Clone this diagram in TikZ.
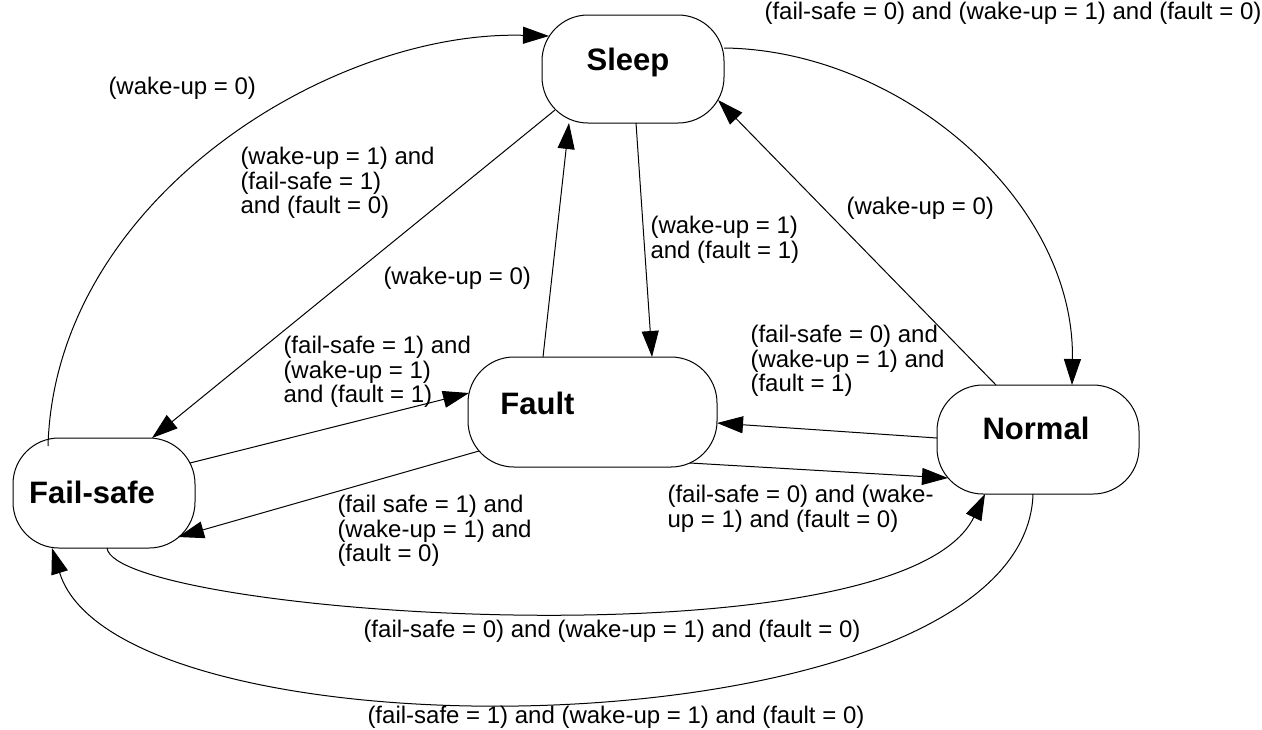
\documentclass[tikz,border=0pt]{standalone}
\usepackage{fontspec}
\setmainfont{Liberation Sans}
\usetikzlibrary{arrows.meta, calc}

\tikzset{
    mode/.style={draw, rounded corners=23pt, minimum height=55pt, inner sep=0pt, line width=0.5pt},
    modetext/.style={font=\bfseries\fontsize{15.5}{18}\selectfont},
    cond/.style={anchor=west, align=left, inner sep=0pt, font=\fontsize{12}{12.3}\selectfont}
}

\begin{document}
\begin{tikzpicture}[x=0.5pt, y=-0.5pt, line width=0.5pt, >={Triangle[length=13pt,width=8.5pt]}]
    \useasboundingbox (0,0) rectangle (1262,729);

    \node[mode, minimum width=91pt, minimum height=54pt, label={[modetext, xshift=-2.5pt, yshift=3.5pt]center:Sleep}] (s) at (633, 69) {};
    \node[mode, minimum width=124.5pt, label={[modetext, xshift=-27.5pt, yshift=4.5pt]center:Fault}] (f) at (592.5, 412) {};
    \node[mode, minimum width=101pt, minimum height=54.5pt, label={[modetext, xshift=-1pt, yshift=5.5pt]center:Normal}] (n) at (1038, 439.5) {};
    \node[mode, minimum width=91pt, label={[modetext, xshift=-6pt, yshift=0.5pt]center:Fail-safe}] (fs) at (104, 493) {};

    \node[cond] (c1) at (108, 88) {(wake-up = 0)};
    \node[cond] (c2) at (240, 183) {(wake-up = 1) and\\(fail-safe = 1)\\and (fault = 0)};
    \node[cond] (c3) at (383, 278) {(wake-up = 0)};
    \node[cond] (c4) at (650, 240) {(wake-up = 1)\\and (fault = 1)};
    \node[cond] (c5) at (846, 208) {(wake-up = 0)};
    \node[cond] (c6) at (764, 13) {(fail-safe = 0) and (wake-up = 1) and (fault = 0)};
    \node[cond] (c7) at (750, 361) {(fail-safe = 0) and\\(wake-up = 1) and\\(fault = 1)};
    \node[cond] (c8) at (283, 372) {(fail-safe = 1) and\\(wake-up = 1)\\and (fault = 1)};
    \node[cond] (c9) at (337, 531) {(fail safe = 1) and\\(wake-up = 1) and\\(fault = 0)};
    \node[cond] (c10) at (667, 508.5) {(fail-safe = 0) and (wake-\\up = 1) and (fault = 0)};
    \node[cond] (c11) at (363, 631) {(fail-safe = 0) and (wake-up = 1) and (fault = 0)};
    \node[cond] (c12) at (367, 717) {(fail-safe = 1) and (wake-up = 1) and (fault = 0)};

    \draw
    ([shift={(-78,41)}]s.center) edge[->] ([shift={(48,-55)}]fs.center)
    ([shift={(-49.5,-55)}]f.center) edge[->] ([shift={(-64,54)}]s.center)
    ([shift={(3,54)}]s.center) edge[->] ([shift={(59.5,-55)}]f.center)
    ([shift={(-42,-54.5)}]n.center) edge[->] ([shift={(85,31)}]s.center)
    ([shift={(-101,-1.5)}]n.center) edge[->] ([shift={(124.5,11)}]f.center)
    ([shift={(97.5,51)}]f.center) edge[->] ([shift={(-90,38.5)}]n.center)
    ([shift={(86,-30)}]fs.center) edge[->] ([shift={(-123.5,-19)}]f.center)
    ([shift={(-113.5,39)}]f.center) edge[->] ([shift={(74,44)}]fs.center);

    \draw[->] ([shift={(-56,-47)}]fs.center) .. controls (55,200) and (330,30) .. ([shift={(-84,-33)}]s.center);
    \draw[->] ([shift={(91,-21)}]s.center) .. controls (900,50) and (1075,200) .. ([shift={(34,-54.5)}]n.center);
    \draw[->] ([shift={(3,55)}]fs.center) .. controls (115,615) and (900,670) .. ([shift={(-53,54.5)}]n.center);
    \draw[->] ([shift={(-5,54.5)}]n.center) .. controls (1025,755) and (120,768) .. ([shift={(-52,55)}]fs.center);
\end{tikzpicture}
\end{document}
